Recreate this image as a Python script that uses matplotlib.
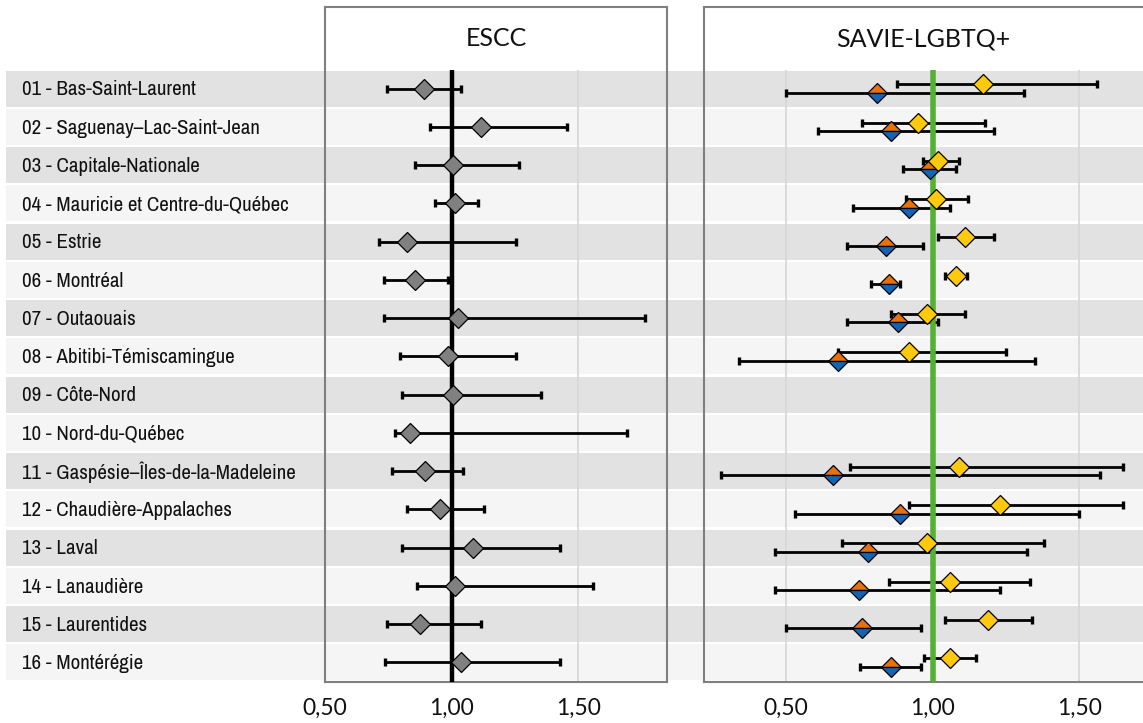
import numpy as np
import matplotlib
matplotlib.use("Agg")
import matplotlib.pyplot as plt
from matplotlib import font_manager as fm

# ---------------- data ----------------
regions = [
    "01 - Bas-Saint-Laurent",
    "02 - Saguenay\u2013Lac-Saint-Jean",
    "03 - Capitale-Nationale",
    "04 - Mauricie et Centre-du-Qu\u00e9bec",
    "05 - Estrie",
    "06 - Montr\u00e9al",
    "07 - Outaouais",
    "08 - Abitibi-T\u00e9miscamingue",
    "09 - C\u00f4te-Nord",
    "10 - Nord-du-Qu\u00e9bec",
    "11 - Gasp\u00e9sie\u2013\u00celes-de-la-Madeleine",
    "12 - Chaudi\u00e8re-Appalaches",
    "13 - Laval",
    "14 - Lanaudi\u00e8re",
    "15 - Laurentides",
    "16 - Mont\u00e9r\u00e9gie",
]

escc_est = [0.89, 1.116, 1.004, 1.013, 0.825, 0.854, 1.026, 0.987, 1.004, 0.836,
            0.894, 0.955, 1.086, 1.013, 0.876, 1.036]
escc_lo = [0.745, 0.914, 0.854, 0.934, 0.715, 0.733, 0.733, 0.795, 0.804, 0.775,
           0.765, 0.825, 0.804, 0.865, 0.745, 0.735]
escc_hi = [1.036, 1.456, 1.265, 1.106, 1.255, 0.984, 1.765, 1.255, 1.354, 1.694,
           1.046, 1.126, 1.426, 1.558, 1.116, 1.426]

# SAVIE-LGBTQ+ : yellow series
sav_y_est = [1.170, 0.950, 1.019, 1.010, 1.110, 1.081, 0.982, 0.919, np.nan, np.nan,
             1.090, 1.231, 0.981, 1.058, 1.190, 1.060]
sav_y_lo = [0.880, 0.760, 0.967, 0.910, 1.019, 1.041, 0.859, 0.678, np.nan, np.nan,
            0.719, 0.918, 0.690, 0.850, 1.041, 0.969]
sav_y_hi = [1.559, 1.180, 1.089, 1.121, 1.209, 1.118, 1.109, 1.249, np.nan, np.nan,
            1.650, 1.650, 1.380, 1.331, 1.340, 1.149]

# SAVIE-LGBTQ+ : orange/blue series
sav_o_est = [0.810, 0.859, 0.990, 0.919, 0.840, 0.850, 0.881, 0.678, np.nan, np.nan,
             0.660, 0.890, 0.779, 0.749, 0.760, 0.859]
sav_o_lo = [0.499, 0.609, 0.899, 0.730, 0.709, 0.791, 0.709, 0.340, np.nan, np.nan,
            0.280, 0.529, 0.461, 0.461, 0.501, 0.751]
sav_o_hi = [1.312, 1.209, 1.080, 1.060, 0.967, 0.890, 1.019, 1.349, np.nan, np.nan,
            1.570, 1.499, 1.320, 1.229, 0.959, 0.959]

xticks = [0.5, 1.0, 1.5]
xtick_labels = ["0,50", "1,00", "1,50"]
panel_titles = ["ESCC", "SAVIE-LGBTQ+"]

# ---------------- style ----------------
W, H = 1143, 723
DPI = 100
C_DARK = "#e2e2e2"
C_LIGHT = "#f5f5f5"
C_GRID = "#d6d6d6"
C_FRAME = "#7f7f7f"
C_GRAY = "#808080"
C_YEL = "#ffc90e"
C_ORA = "#e8710a"
C_BLU = "#1464b4"
C_GREEN = "#55b033"

TICK_FONT = ["Lato", "DejaVu Sans"]


def pick_condensed_font():
    entries = fm.fontManager.ttflist
    for e in entries:
        if e.name == "Liberation Sans Narrow" and e.weight in (400, "normal", "regular") and e.style == "normal":
            return fm.FontProperties(fname=e.fname)
    for e in entries:
        if ("Narrow" in e.name or "Condensed" in e.name) and e.style == "normal" and e.weight in (400, "normal", "regular"):
            return fm.FontProperties(fname=e.fname)
    for e in entries:
        if str(e.stretch) in ("condensed", "semi-condensed", "extra-condensed") and e.style == "normal" \
                and e.weight in (400, "normal", "regular"):
            return fm.FontProperties(fname=e.fname)
    return fm.FontProperties(family="Roboto")


LAB_FP = pick_condensed_font()

row_h = 38.25
rows_top = 69.5
rows_bot = rows_top + 16 * row_h
box_top = 7.0

fig = plt.figure(figsize=(W / DPI, H / DPI), dpi=DPI)


def px_rect(x0, x1, ytop, ybot):
    return [x0 / W, (H - ybot) / H, (x1 - x0) / W, (ybot - ytop) / H]


n = len(regions)
ypos = np.arange(n)

# background stripes + labels
bg = fig.add_axes(px_rect(6, W, rows_top, rows_bot), zorder=0)
bg.set_xlim(0, W - 6)
bg.set_ylim(n - 0.5, -0.5)
bg.axis("off")
gap = 0.03
label_texts = []
for i in ypos:
    bg.axhspan(i - 0.5 + gap, i + 0.5 - gap, color=C_DARK if i % 2 == 0 else C_LIGHT, lw=0)
    fp = LAB_FP.copy()
    fp.set_size(15)
    t = bg.text(16, i + 0.03, regions[i], ha="left", va="center",
                fontproperties=fp, color="#111111")
    label_texts.append(t)

# scale label font so the longest label is close to the reference width
fig.canvas.draw()
r = fig.canvas.get_renderer()
wmax = label_texts[3].get_window_extent(r).width
size = 15 * 268.0 / wmax
size = max(11.5, min(size, 15.5))
for t in label_texts:
    t.set_fontsize(size)

ylim_top = (n - 0.5) - (rows_bot - box_top) / row_h
title_y = ylim_top + (39 - box_top) / row_h


def make_panel(x0, x1, xl):
    ax = fig.add_axes(px_rect(x0, x1, box_top, rows_bot), zorder=2)
    ax.patch.set_alpha(0)
    ax.set_xlim(*xl)
    ax.set_ylim(n - 0.5, ylim_top)
    for s in ax.spines.values():
        s.set_color(C_FRAME)
        s.set_linewidth(1.5)
    ax.set_yticks([])
    ax.set_xticks(xticks)
    ax.set_xticklabels(xtick_labels, fontsize=16.5, family=TICK_FONT, color="#111111")
    ax.tick_params(axis="x", length=0, pad=12)
    ax.vlines(xticks, -0.5, n - 0.5, color=C_GRID, lw=1.2, zorder=1)
    return ax


EB = dict(fmt="none", ecolor="black", elinewidth=2.0, capsize=2.8, capthick=2.4, zorder=3)
MK = dict(ls="none", marker="D", ms=10, mec="black", mew=0.9)

# left panel
unitL = 253.3
xlL = (0.5, 0.5 + (667 - 325) / unitL)
axL = make_panel(325, 667, xlL)
axL.text(sum(xlL) / 2, title_y, panel_titles[0],
         ha="center", va="center", fontsize=18, family=TICK_FONT, color="#111111")
e = np.array(escc_est); lo = np.array(escc_lo); hi = np.array(escc_hi)
axL.errorbar(e, ypos, xerr=[e - lo, hi - e], **EB)
axL.vlines([1.0], -0.5, n - 0.5, color="black", lw=3.2, zorder=4)
axL.plot(e, ypos, mfc=C_GRAY, zorder=5, **MK)

# right panel
unitR = 293.3
x0R, x1R = 704, 1150
xlR0 = 0.5 - (786 - x0R) / unitR
xlR = (xlR0, xlR0 + (x1R - x0R) / unitR)
axR = make_panel(x0R, x1R, xlR)
title_x_px = 923
axR.text(xlR0 + (title_x_px - x0R) / unitR, title_y, panel_titles[1],
         ha="center", va="center", fontsize=18, family=TICK_FONT, color="#111111")

off = 0.11
ye = np.array(sav_y_est); ylo = np.array(sav_y_lo); yhi = np.array(sav_y_hi)
oe = np.array(sav_o_est); olo = np.array(sav_o_lo); ohi = np.array(sav_o_hi)
m = ~np.isnan(ye)
mo = ~np.isnan(oe)
axR.errorbar(oe[mo], ypos[mo] + off, xerr=[oe[mo] - olo[mo], ohi[mo] - oe[mo]], **EB)
axR.errorbar(ye[m], ypos[m] - off, xerr=[ye[m] - ylo[m], yhi[m] - ye[m]], **EB)
axR.vlines([1.0], -0.5, n - 0.5, color=C_GREEN, lw=4.0, zorder=4)
axR.plot(oe[mo], ypos[mo] + off, mfc=C_ORA, mfcalt=C_BLU, fillstyle="top", zorder=5, **MK)
axR.plot(ye[m], ypos[m] - off, mfc=C_YEL, zorder=6, **MK)

fig.savefig("out.png", dpi=DPI)
